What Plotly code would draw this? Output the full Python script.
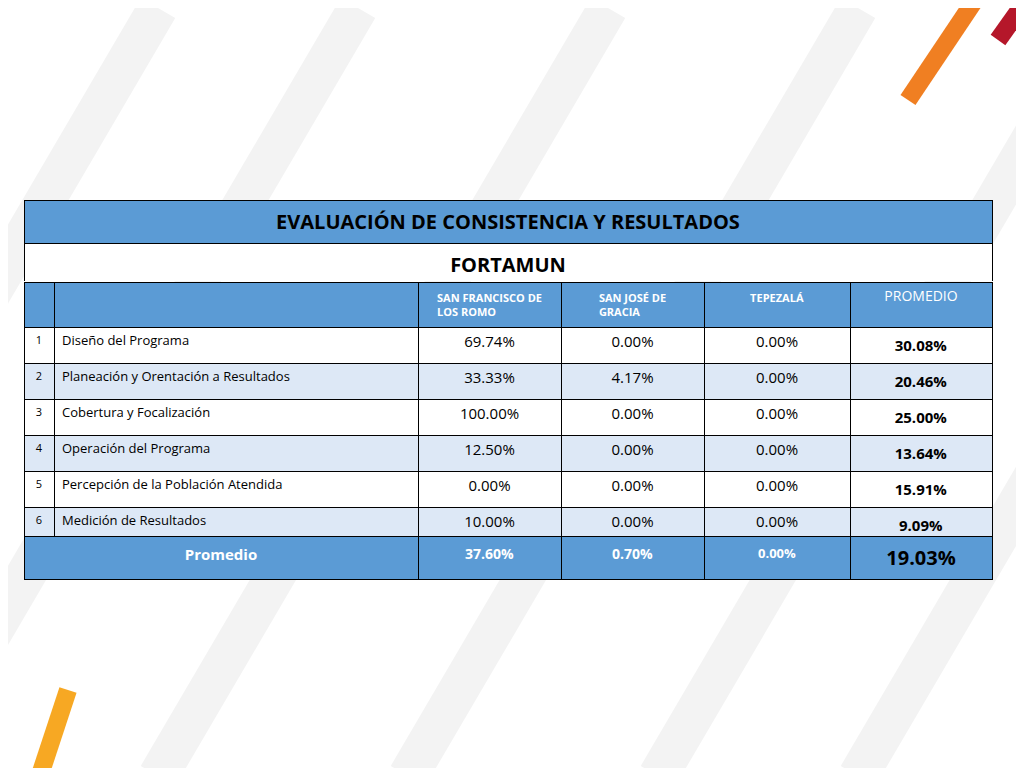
import plotly.graph_objects as go

title = "EVALUACIÓN DE CONSISTENCIA Y RESULTADOS"
subtitle = "FORTAMUN"
col_headers = ["", "", "SAN FRANCISCO DE<br>LOS ROMO", "SAN JOSÉ DE<br>GRACIA", "TEPEZALÁ", "PROMEDIO"]
row_nums = ["1", "2", "3", "4", "5", "6"]
categories = [
    "Diseño del Programa",
    "Planeación y Orentación a Resultados",
    "Cobertura y Focalización",
    "Operación del Programa",
    "Percepción de la Población Atendida",
    "Medición de Resultados",
]
san_francisco = [69.74, 33.33, 100.00, 12.50, 0.00, 10.00]
san_jose = [0.00, 4.17, 0.00, 0.00, 0.00, 0.00]
tepezala = [0.00, 0.00, 0.00, 0.00, 0.00, 0.00]
promedio = [30.08, 20.46, 25.00, 13.64, 15.91, 9.09]
total_label = "Promedio"
totals = [37.60, 0.70, 0.00, 19.03]

BLUE = "#5b9bd5"
LIGHT = "#dde8f6"
FONT = "Open Sans"
W, H = 1024, 768
OFF = 8  # page margin of the browser


def py(px):
    return 1 - (px - OFF) / H


def px_(x):
    return (x - OFF) / W


x0, x1 = px_(24), px_(992)
pct = lambda v: f"{v:.2f}%"
row_fill = ["white" if i % 2 == 0 else LIGHT for i in range(len(categories))]
LINE = dict(color="black", width=1)

fig = go.Figure()

fig.add_trace(go.Table(
    domain=dict(x=[x0, x1], y=[py(282), py(200)]),
    header=dict(values=[f"<b>{title}</b>"], fill_color=BLUE, height=38, line=LINE,
                font=dict(family=FONT, size=20, color="black"), align="center"),
    cells=dict(values=[[f"<b>{subtitle}</b>"]], fill_color="white", height=38, line=LINE,
               font=dict(family=FONT, size=20, color="black"), align="center"),
))

fig.add_trace(go.Table(
    domain=dict(x=[x0, x1], y=[py(536), py(282)]),
    columnwidth=[30, 364, 143, 143, 146, 142],
    header=dict(values=[f"<b>{h}</b>" if h != "PROMEDIO" else h for h in col_headers],
                fill_color=BLUE, height=38, line=LINE,
                font=dict(family=FONT, size=[11, 11, 11, 11, 11, 14], color="white"),
                align="center"),
    cells=dict(values=[row_nums, categories,
                       [pct(v) for v in san_francisco],
                       [pct(v) for v in san_jose],
                       [pct(v) for v in tepezala],
                       [f"<b>{pct(v)}</b>" for v in promedio]],
               fill_color=[row_fill] * 6, height=32, line=LINE,
               font=dict(family=FONT, size=[11, 13, 15, 15, 15, 15], color="black"),
               align=["center", "left", "center", "center", "center", "center"]),
))

fig.add_trace(go.Table(
    domain=dict(x=[x0, x1], y=[py(581), py(536)]),
    columnwidth=[394, 143, 143, 146, 142],
    header=dict(values=[f"<b>{total_label}</b>"] + [f"<b>{pct(v)}</b>" for v in totals],
                fill_color=BLUE, height=42, line=LINE,
                font=dict(family=FONT, size=[15, 14, 14, 13, 20],
                          color=["white", "white", "white", "white", "black"]),
                align="center"),
    cells=dict(values=[[], [], [], [], []], height=1),
))

shapes = []
for sx in [-300, -100, 150, 400, 650, 850]:
    shapes.append(dict(type="line", xref="paper", yref="paper",
                       x0=sx / W, y0=0, x1=(sx + 450) / W, y1=1,
                       line=dict(color="#f3f3f3", width=40), layer="below"))
shapes += [
    dict(type="line", xref="paper", yref="paper", x0=px_(908), y0=py(100), x1=px_(975), y1=py(0),
         line=dict(color="#f07f22", width=18)),
    dict(type="line", xref="paper", yref="paper", x0=px_(998), y0=py(40), x1=px_(1030), y1=py(-5),
         line=dict(color="#b5172a", width=18)),
    dict(type="line", xref="paper", yref="paper", x0=px_(40), y0=py(775), x1=px_(68), y1=py(690),
         line=dict(color="#f7a823", width=18)),
]

fig.update_layout(width=W, height=H, margin=dict(l=0, r=0, t=0, b=0),
                  paper_bgcolor="white", shapes=shapes)
fig.write_html("out.html")
